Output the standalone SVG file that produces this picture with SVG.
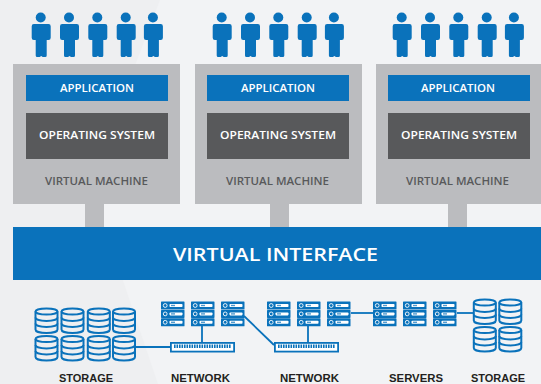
<svg xmlns="http://www.w3.org/2000/svg" xmlns:xlink="http://www.w3.org/1999/xlink" width="541" height="384" viewBox="0 0 541 384">
<style>
.b{fill:#0a72bb}
.vm{fill:#bbbcbf}
.os{fill:#58595b}
.t{font-family:"Open Sans","Liberation Sans",sans-serif;text-anchor:middle;font-weight:600}
.w{fill:#fff;font-size:10.5px}
.g{fill:#58595b;font-size:10.5px}
.l{fill:#231f20;font-family:"Liberation Sans",Arial,sans-serif;font-weight:700;font-size:10.5px;text-anchor:middle}
.c{fill:none;stroke:#0a72bb;stroke-width:2}
.ln{fill:none;stroke:#0a72bb;stroke-width:1.8}
</style>
<defs>
<g id="person"><circle cx="0" cy="17.500" r="5" class="b"/><path class="b" d="M-7.800 24h15.600q2.200 0 2.200 2.200v11.600q0 2.200-2.200 2.200h-1.800v15.500q0 1.500-1.500 1.500h-2.500l-1.500-1-1.500 1h-2.500q-1.500 0-1.500-1.500v-15.500h-1.800q-2.200 0-2.200-2.200v-11.600q0-2.200 2.200-2.200z"/></g>
<g id="people"><use xlink:href="#person" x="0"/><use xlink:href="#person" x="28.300"/><use xlink:href="#person" x="56.600"/><use xlink:href="#person" x="85"/><use xlink:href="#person" x="112.200"/></g>
<g id="cyl"><path class="c" d="M-11 3v18c0 2 4.700 3.600 11 3.600s11-1.600 11-3.600v-18"/><ellipse class="c" cx="0" cy="3" rx="11" ry="3"/><path class="c" d="M-11 9c0 2 4.700 3.400 11 3.400s11-1.400 11-3.400M-11 15c0 2 4.700 3.400 11 3.400s11-1.400 11-3.400"/></g>
<g id="srow"><rect class="b" width="23.500" height="8" rx=".6"/><circle cx="4.200" cy="4" r="1.900" fill="none" stroke="#fff" stroke-width=".9"/><rect x="8.500" y="2.500" width="13" height="3" rx=".8" fill="#fff"/><rect x="10" y="3.300" width="4" height="1.400" fill="#0a72bb" opacity=".7"/></g>
<g id="server"><use xlink:href="#srow"/><use xlink:href="#srow" y="8.400"/><use xlink:href="#srow" y="16.800"/></g>
<g id="switch"><rect x=".9" y=".9" width="63.200" height="8.700" fill="#fff" stroke="#0a72bb" stroke-width="1.800"/><path d="M4 4.300H61" stroke="#0a72bb" stroke-width="3.400" stroke-dasharray="1.600 .9" fill="none"/></g>
</defs>
<rect width="541" height="384" fill="#f2f3f5"/>
<path d="M0 0H160L90 183L158 384H0Z" fill="#eeeff1"/>

<g id="users-1"><use xlink:href="#people" x="40.700"/></g>
<g id="users-2"><use xlink:href="#people" x="221.700"/></g>
<g id="users-3"><use xlink:href="#people" x="401.700"/></g>

<g id="vm-1"><rect class="vm" x="13" y="64" width="167" height="140"/><rect class="vm" x="85" y="204" width="19" height="23"/><rect class="b" x="26" y="75" width="142" height="26"/><text class="t w" x="97" y="92" textLength="74" lengthAdjust="spacingAndGlyphs">APPLICATION</text><rect class="os" x="26" y="113" width="142" height="46"/><text class="t w" x="97" y="139" textLength="116" lengthAdjust="spacingAndGlyphs">OPERATING SYSTEM</text><text class="t g" x="96.500" y="185" textLength="103" lengthAdjust="spacingAndGlyphs">VIRTUAL MACHINE</text></g>
<g id="vm-2"><rect class="vm" x="195" y="64" width="167" height="140"/><rect class="vm" x="270" y="204" width="19" height="23"/><rect class="b" x="207" y="75" width="142" height="26"/><text class="t w" x="278" y="92" textLength="74" lengthAdjust="spacingAndGlyphs">APPLICATION</text><rect class="os" x="207" y="113" width="142" height="46"/><text class="t w" x="278" y="139" textLength="116" lengthAdjust="spacingAndGlyphs">OPERATING SYSTEM</text><text class="t g" x="277.500" y="185" textLength="103" lengthAdjust="spacingAndGlyphs">VIRTUAL MACHINE</text></g>
<g id="vm-3"><rect class="vm" x="376" y="64" width="165" height="140"/><rect class="vm" x="448" y="204" width="19" height="23"/><rect class="b" x="388" y="75" width="142" height="26"/><text class="t w" x="458" y="92" textLength="74" lengthAdjust="spacingAndGlyphs">APPLICATION</text><rect class="os" x="388" y="113" width="142" height="46"/><text class="t w" x="459" y="139" textLength="116" lengthAdjust="spacingAndGlyphs">OPERATING SYSTEM</text><text class="t g" x="457.500" y="185" textLength="103" lengthAdjust="spacingAndGlyphs">VIRTUAL MACHINE</text></g>

<g id="virtual-interface"><rect class="b" x="13" y="227" width="528" height="53"/><text class="t" x="275.500" y="261" fill="#fff" font-size="18.500" textLength="205" lengthAdjust="spacingAndGlyphs">VIRTUAL INTERFACE</text></g>

<g id="connectors">
<path class="ln" d="M135 347H170"/>
<path class="ln" d="M202 326V342"/>
<path class="ln" d="M244 316L274 345"/>
<path class="ln" d="M308 326V342"/>
<path class="ln" d="M351 313H373"/>
<path class="ln" d="M457 313H474"/>
</g>

<g id="storage-1"><use xlink:href="#cyl" x="46.500" y="308.500"/><use xlink:href="#cyl" x="72.500" y="308.500"/><use xlink:href="#cyl" x="98.800" y="308.500"/><use xlink:href="#cyl" x="124" y="308.500"/><use xlink:href="#cyl" x="46.500" y="336"/><use xlink:href="#cyl" x="72.500" y="336"/><use xlink:href="#cyl" x="98.800" y="336"/><use xlink:href="#cyl" x="124" y="336"/></g>
<g id="servers-1"><use xlink:href="#server" x="161" y="301.500"/><use xlink:href="#server" x="191" y="301.500"/><use xlink:href="#server" x="221" y="301.500"/></g>
<g id="servers-2"><use xlink:href="#server" x="267" y="301.500"/><use xlink:href="#server" x="297" y="301.500"/><use xlink:href="#server" x="327" y="301.500"/></g>
<g id="servers-3"><use xlink:href="#server" x="373" y="301.500"/><use xlink:href="#server" x="403" y="301.500"/><use xlink:href="#server" x="433" y="301.500"/></g>
<g id="switch-1"><use xlink:href="#switch" x="170" y="342"/></g>
<g id="switch-2"><use xlink:href="#switch" x="274" y="342"/></g>
<g id="storage-2"><use xlink:href="#cyl" x="484.800" y="299.500"/><use xlink:href="#cyl" x="510.300" y="299.500"/><use xlink:href="#cyl" x="484.800" y="327"/><use xlink:href="#cyl" x="510.300" y="327"/></g>

<g id="labels">
<text class="l" x="86" y="382" textLength="54" lengthAdjust="spacingAndGlyphs">STORAGE</text>
<text class="l" x="200.500" y="382" textLength="59" lengthAdjust="spacingAndGlyphs">NETWORK</text>
<text class="l" x="309.500" y="382" textLength="59" lengthAdjust="spacingAndGlyphs">NETWORK</text>
<text class="l" x="416" y="382" textLength="54" lengthAdjust="spacingAndGlyphs">SERVERS</text>
<text class="l" x="498" y="382" textLength="54" lengthAdjust="spacingAndGlyphs">STORAGE</text>
</g>
</svg>
